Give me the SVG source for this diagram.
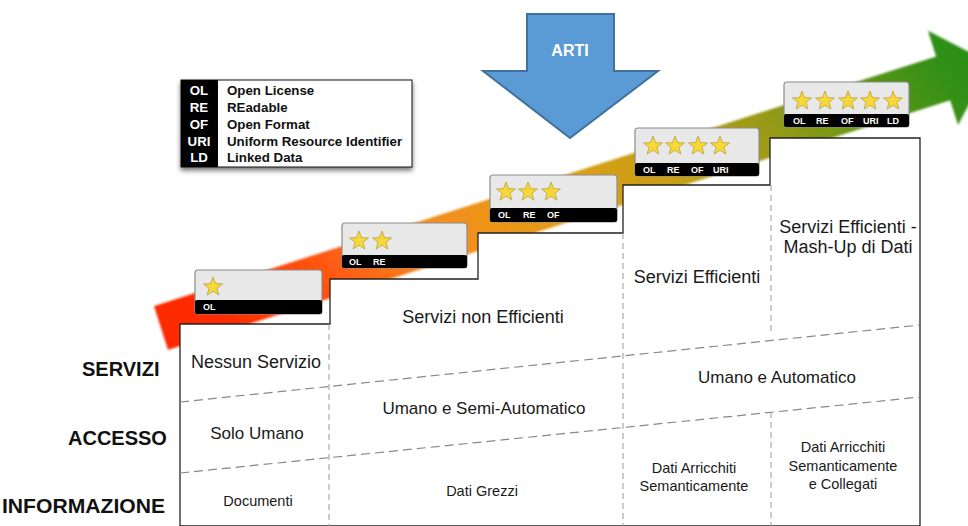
<svg xmlns="http://www.w3.org/2000/svg" width="968" height="526" viewBox="0 0 968 526">
<style>
.lbl{font-family:"Liberation Sans",Arial,sans-serif;font-weight:bold;font-size:20px;fill:#111}
.cell{font-family:"Liberation Sans",Arial,sans-serif;font-size:17px;fill:#1a1a1a;text-anchor:middle}
.big{font-size:18px}
.small{font-family:"Liberation Sans",Arial,sans-serif;font-size:14.5px;fill:#1a1a1a;text-anchor:middle}
.leg{font-family:"Liberation Sans",Arial,sans-serif;font-weight:bold;font-size:13.3px;fill:#111}
.legw{font-family:"Liberation Sans",Arial,sans-serif;font-weight:bold;font-size:13.3px;fill:#fff;text-anchor:middle}
.tag{font-family:"Liberation Sans",Arial,sans-serif;font-weight:bold;font-size:9px;fill:#fff}
.box{fill:#e8e8e8;stroke:#8c8c8c;stroke-width:1.2}
.bar{fill:#000}
.dash{stroke:#888;stroke-width:1.2;stroke-dasharray:9 5;fill:none}
.vdash{stroke:#999;stroke-width:1;stroke-dasharray:6 4;fill:none}
.star{fill:#f7d836;stroke:#b09a3a;stroke-width:0.7}
</style>
<defs>
<linearGradient id="g" gradientUnits="userSpaceOnUse" x1="161" y1="328" x2="990" y2="63">
<stop offset="0" stop-color="#ff2a00"/>
<stop offset="0.12" stop-color="#ff5210"/>
<stop offset="0.25" stop-color="#f78c1e"/>
<stop offset="0.4" stop-color="#e09e12"/>
<stop offset="0.53" stop-color="#c4a014"/>
<stop offset="0.64" stop-color="#999a18"/>
<stop offset="0.75" stop-color="#5e9618"/>
<stop offset="0.85" stop-color="#2f9018"/>
<stop offset="1" stop-color="#1c8c1a"/>
</linearGradient>
<filter id="sh" x="-10%" y="-10%" width="120%" height="140%">
<feDropShadow dx="0" dy="3" stdDeviation="2.5" flood-color="#000" flood-opacity="0.55"/>
</filter>
<filter id="soft" x="-5%" y="-20%" width="110%" height="140%">
<feGaussianBlur stdDeviation="1"/>
</filter>
<path id="st" class="star" d="M0,-10 L2.47,-3.4 L9.51,-3.09 L3.99,1.3 L5.88,8.09 L0,4.2 L-5.88,8.09 L-3.99,1.3 L-9.51,-3.09 L-2.47,-3.4 Z"/>
</defs>

<g id="big-arrow">
<path fill="url(#g)" filter="url(#soft)" transform="translate(161,328) rotate(-17.7)" d="M0,-23 L821,-23 L821,-50 L871,0 L821,49 L821,23 L0,23 Z"/>
</g>

<g id="connectors">
<path d="M180,526 V324 H330 V279 H478 V233 H623 V185 H770 V138 H920 V526 Z" fill="#fff" stroke="#222" stroke-width="1.3"/>
<line class="dash" x1="180" y1="402" x2="920" y2="325"/>
<line class="dash" x1="180" y1="473" x2="920" y2="397"/>
<line class="vdash" x1="329" y1="324" x2="329" y2="526"/>
<line class="vdash" x1="623" y1="233" x2="623" y2="526"/>
<line class="vdash" x1="771" y1="185" x2="771" y2="334"/>
<line class="vdash" x1="771" y1="412" x2="771" y2="526"/>
</g>

<g id="arti">
<path d="M527,14 H614 V71 H658 L570,138 L483,71 H527 Z" fill="#5b9bd5" stroke="#41719c" stroke-width="2"/>
<text x="570" y="56" font-family="'Liberation Sans',Arial,sans-serif" font-weight="bold" font-size="16" fill="#fff" text-anchor="middle">ARTI</text>
</g>

<g id="legend">
<rect x="181" y="80" width="231" height="87" fill="#fff" stroke="#111" stroke-width="1" filter="url(#sh)"/>
<rect x="181" y="80" width="37" height="87" fill="#000"/>
<text class="legw" x="199" y="95">OL</text><text class="leg" x="227" y="95">Open License</text>
<text class="legw" x="199" y="112">RE</text><text class="leg" x="227" y="112">REadable</text>
<text class="legw" x="199" y="129">OF</text><text class="leg" x="227" y="129">Open Format</text>
<text class="legw" x="199" y="146">URI</text><text class="leg" x="227" y="146">Uniform Resource Identifier</text>
<text class="legw" x="199" y="162">LD</text><text class="leg" x="227" y="162">Linked Data</text>
</g>

<g id="star1">
<rect class="box" x="195" y="270" width="127" height="44" rx="3"/>
<rect class="bar" x="195" y="300" width="127" height="14" rx="2"/>
<use href="#st" x="213" y="287"/>
<text class="tag" x="203" y="310">OL</text>
</g>

<g id="star2">
<rect class="box" x="342" y="223" width="125" height="45" rx="3"/>
<rect class="bar" x="342" y="255" width="125" height="13" rx="2"/>
<use href="#st" x="359" y="241"/><use href="#st" x="382" y="241"/>
<text class="tag" x="349" y="265">OL</text><text class="tag" x="373" y="265">RE</text>
</g>

<g id="star3">
<rect class="box" x="490" y="175" width="127" height="47" rx="3"/>
<rect class="bar" x="490" y="208" width="127" height="14" rx="2"/>
<use href="#st" x="506" y="192"/><use href="#st" x="528" y="192"/><use href="#st" x="551" y="192"/>
<text class="tag" x="498" y="218">OL</text><text class="tag" x="523" y="218">RE</text><text class="tag" x="547" y="218">OF</text>
</g>

<g id="star4">
<rect class="box" x="635" y="128" width="124" height="48" rx="3"/>
<rect class="bar" x="635" y="163" width="124" height="13" rx="2"/>
<use href="#st" x="653" y="146"/><use href="#st" x="675" y="146"/><use href="#st" x="698" y="146"/><use href="#st" x="720" y="146"/>
<text class="tag" x="643" y="173">OL</text><text class="tag" x="667" y="173">RE</text><text class="tag" x="691" y="173">OF</text><text class="tag" x="713" y="173">URI</text>
</g>

<g id="star5">
<rect class="box" x="784" y="82" width="125" height="45" rx="3"/>
<rect class="bar" x="784" y="114" width="125" height="13" rx="2"/>
<use href="#st" x="802" y="101"/><use href="#st" x="825" y="101"/><use href="#st" x="848" y="101"/><use href="#st" x="870" y="101"/><use href="#st" x="893" y="101"/>
<text class="tag" x="793" y="124">OL</text><text class="tag" x="816" y="124">RE</text><text class="tag" x="841" y="124">OF</text><text class="tag" x="863" y="124">URI</text><text class="tag" x="887" y="124">LD</text>
</g>

<g id="row-labels">
<text class="lbl" x="82" y="376">SERVIZI</text>
<text class="lbl" x="68" y="445">ACCESSO</text>
<text class="lbl" x="2" y="513" textLength="163" lengthAdjust="spacingAndGlyphs">INFORMAZIONE</text>
</g>

<g id="cells">
<text class="cell big" x="256" y="368">Nessun Servizio</text>
<text class="cell big" x="483" y="323">Servizi non Efficienti</text>
<text class="cell big" x="697" y="283">Servizi Efficienti</text>
<text class="cell big" x="848" y="233">Servizi Efficienti -</text>
<text class="cell big" x="848" y="253">Mash-Up di Dati</text>
<text class="cell" x="257" y="439">Solo Umano</text>
<text class="cell" x="484" y="414">Umano e Semi-Automatico</text>
<text class="cell" x="777" y="383">Umano e Automatico</text>
<text class="small" x="258" y="506">Documenti</text>
<text class="small" x="482" y="496">Dati Grezzi</text>
<text class="small" x="694" y="473">Dati Arricchiti</text>
<text class="small" x="694" y="491">Semanticamente</text>
<text class="small" x="843" y="452">Dati Arricchiti</text>
<text class="small" x="843" y="471">Semanticamente</text>
<text class="small" x="843" y="489">e Collegati</text>
</g>
</svg>
